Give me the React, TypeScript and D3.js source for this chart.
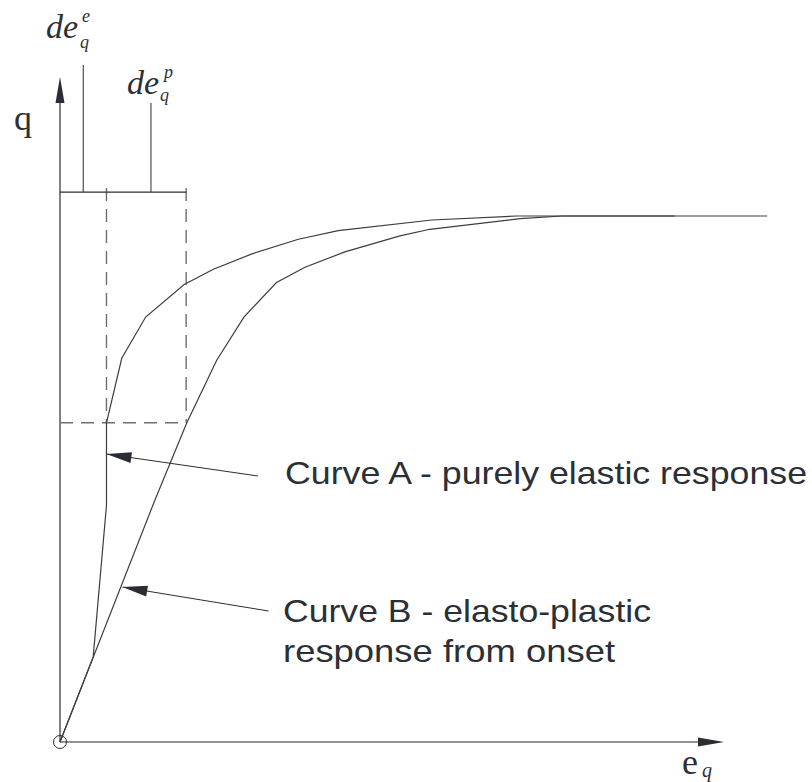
import React from "react";
import * as d3 from "d3";

// Curve A – purely elastic response (strain, q) in chart units
const curveAStrain = [0, 0.5, 0.7, 0.7, 0.93, 1.29, 1.87, 2.31, 2.89, 3.59, 4.19, 5.6, 6.88, 9.26];
const curveAQ = [0, 1.28, 3.56, 4.8, 5.77, 6.39, 6.88, 7.11, 7.34, 7.56, 7.69, 7.85, 7.91, 7.91];
// Curve B – elasto-plastic response from onset
const curveBStrain = [0, 1.43, 1.91, 2.36, 2.77, 3.26, 3.69, 4.29, 5.12, 5.57, 6.93, 7.56, 10.65];
const curveBQ = [0, 3.64, 4.8, 5.74, 6.39, 6.91, 7.14, 7.37, 7.61, 7.71, 7.87, 7.91, 7.91];

// construction values
const elasticStrain = 0.7; // dashed vertical (end of elastic increment)
const totalStrain = 1.9; // dashed vertical (end of plastic increment)
const qLevel = 4.8; // dashed horizontal
const bracketQ = 8.27;
const deELine = { x: 0.35, top: 10.18 };
const dePLine = { x: 1.37, top: 9.61 };
const axisMax = 10;

// annotation arrows: [tail, tip]
const pointerA = { tail: [2.98, 4.0], tip: [0.7, 4.33] };
const pointerB = { tail: [3.14, 1.97], tip: [0.94, 2.33] };

const labelA = "Curve A - purely elastic response";
const labelB1 = "Curve B - elasto-plastic";
const labelB2 = "response from onset";

const W = 812;
const H = 782;

export default function App() {
  const x = d3.scaleLinear().domain([0, axisMax]).range([60, 724]);
  const y = d3.scaleLinear().domain([0, axisMax]).range([742, 77]);

  const line = d3
    .line<[number, number]>()
    .x((d) => x(d[0]))
    .y((d) => y(d[1]));

  const ptsA = curveAStrain.map((s, i) => [s, curveAQ[i]] as [number, number]);
  const ptsB = curveBStrain.map((s, i) => [s, curveBQ[i]] as [number, number]);

  const head = (tx: number, ty: number, fx: number, fy: number, len: number, hw: number) => {
    const dx = tx - fx;
    const dy = ty - fy;
    const L = Math.hypot(dx, dy);
    const ux = dx / L;
    const uy = dy / L;
    const bx = tx - ux * len;
    const by = ty - uy * len;
    return `${tx},${ty} ${bx - uy * hw},${by + ux * hw} ${bx + uy * hw},${by - ux * hw}`;
  };

  const dark = "#2a2d33";
  const textColor = "#2b2f36";
  const dashColor = "#6b6e73";
  const serif = "'Liberation Serif', 'Times New Roman', serif";
  const sans = "'Liberation Sans', Arial, sans-serif";

  const ox = x(0);
  const oy = y(0);

  const pA = {
    t: [x(pointerA.tail[0]), y(pointerA.tail[1])],
    h: [x(pointerA.tip[0]), y(pointerA.tip[1])],
  };
  const pB = {
    t: [x(pointerB.tail[0]), y(pointerB.tail[1])],
    h: [x(pointerB.tip[0]), y(pointerB.tip[1])],
  };

  return (
    <svg
      width={W}
      height={H}
      style={{ position: "absolute", left: 0, top: 0, background: "#fff" }}
    >
      <rect width={W} height={H} fill="#fff" />
      {/* axes */}
      <line x1={ox} y1={oy} x2={x(0)} y2={y(axisMax) + 20} stroke={dark} strokeWidth={1.2} />
      <polygon points={head(x(0), y(axisMax), x(0), oy, 26, 4.5)} fill={dark} />
      <line x1={ox} y1={oy} x2={x(axisMax) - 20} y2={oy} stroke="#6d7075" strokeWidth={1.5} />
      <polygon points={head(x(axisMax), oy, ox, oy, 26, 4.5)} fill={dark} />
      <circle cx={ox} cy={oy} r={6.5} fill="none" stroke={dark} strokeWidth={1} />

      {/* dashed construction lines */}
      <line x1={x(0)} y1={y(qLevel)} x2={x(totalStrain)} y2={y(qLevel)} stroke={dashColor} strokeWidth={1.4} strokeDasharray="13,8" />
      <line x1={x(elasticStrain)} y1={y(bracketQ) - 4} x2={x(elasticStrain)} y2={y(qLevel)} stroke={dashColor} strokeWidth={1.4} strokeDasharray="13,8" />
      <line x1={x(totalStrain)} y1={y(bracketQ) - 4} x2={x(totalStrain)} y2={y(qLevel)} stroke={dashColor} strokeWidth={1.4} strokeDasharray="13,8" />

      {/* bracket */}
      <line x1={x(0)} y1={y(bracketQ)} x2={x(totalStrain)} y2={y(bracketQ)} stroke={dark} strokeWidth={1.2} />
      <line x1={x(deELine.x)} y1={y(deELine.top)} x2={x(deELine.x)} y2={y(bracketQ)} stroke={dark} strokeWidth={1} />
      <line x1={x(dePLine.x)} y1={y(dePLine.top)} x2={x(dePLine.x)} y2={y(bracketQ)} stroke={dark} strokeWidth={1} />

      {/* curves */}
      <path d={line(ptsB) || ""} fill="none" stroke="#3a3d42" strokeWidth={1.2} />
      <path d={line(ptsA) || ""} fill="none" stroke="#3a3d42" strokeWidth={1.2} />

      {/* pointers */}
      <line x1={pA.t[0]} y1={pA.t[1]} x2={pA.h[0]} y2={pA.h[1]} stroke={dark} strokeWidth={1} />
      <polygon points={head(pA.h[0], pA.h[1], pA.t[0], pA.t[1], 25, 5.5)} fill={dark} />
      <line x1={pB.t[0]} y1={pB.t[1]} x2={pB.h[0]} y2={pB.h[1]} stroke={dark} strokeWidth={1} />
      <polygon points={head(pB.h[0], pB.h[1], pB.t[0], pB.t[1], 25, 5.5)} fill={dark} />

      {/* labels */}
      <text x={285} y={484} fontFamily={sans} fontSize={32} fill={textColor} textLength={522} lengthAdjust="spacingAndGlyphs">
        {labelA}
      </text>
      <text x={283} y={622} fontFamily={sans} fontSize={32} fill={textColor} textLength={368} lengthAdjust="spacingAndGlyphs">
        {labelB1}
      </text>
      <text x={283} y={662} fontFamily={sans} fontSize={32} fill={textColor} textLength={332} lengthAdjust="spacingAndGlyphs">
        {labelB2}
      </text>

      {/* axis titles */}
      <text x={14} y={130} fontFamily={serif} fontSize={36} fill={textColor}>q</text>
      <text x={682} y={774} fontFamily={serif} fontSize={36} fill={textColor}>e</text>
      <text x={702} y={777} fontFamily={serif} fontSize={20} fontStyle="italic" fill={textColor}>q</text>

      {/* de_q^e */}
      <text x={46} y={38} fontFamily={serif} fontSize={34} fontStyle="italic" fill={textColor}>de</text>
      <text x={82} y={22} fontFamily={serif} fontSize={18} fontStyle="italic" fill={textColor}>e</text>
      <text x={80} y={48} fontFamily={serif} fontSize={18} fontStyle="italic" fill={textColor}>q</text>
      {/* de_q^p */}
      <text x={127} y={94} fontFamily={serif} fontSize={34} fontStyle="italic" fill={textColor}>de</text>
      <text x={164} y={78} fontFamily={serif} fontSize={18} fontStyle="italic" fill={textColor}>p</text>
      <text x={160} y={101} fontFamily={serif} fontSize={18} fontStyle="italic" fill={textColor}>q</text>
    </svg>
  );
}
